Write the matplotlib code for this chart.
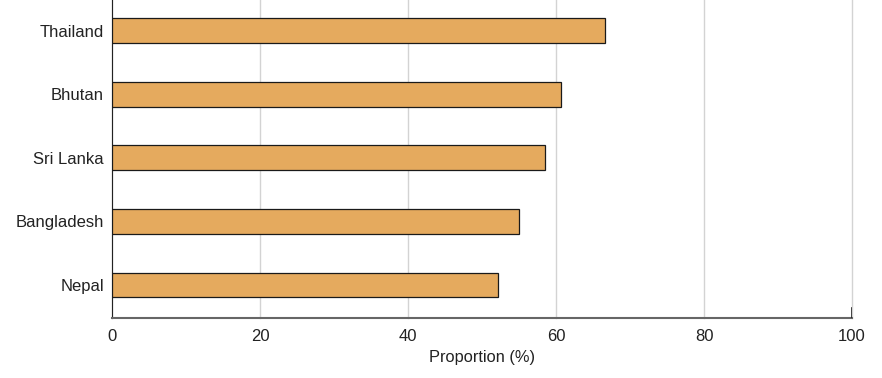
import matplotlib
matplotlib.use("Agg")
import matplotlib.pyplot as plt
import numpy as np

# proportion by country (bottom to top)
countries = ["Nepal", "Bangladesh", "Sri Lanka", "Bhutan", "Thailand"]
values = [52.2, 55.0, 58.5, 60.7, 66.6]
xticks = [0, 20, 40, 60, 80, 100]

plt.rcParams['font.family'] = ['Liberation Sans', 'DejaVu Sans']

fig = plt.figure(figsize=(8.82, 3.78), dpi=100)
ax = fig.add_axes([112/882, 60/378, 740/882, 318/378])

y = np.arange(len(countries))
ax.barh(y, values, height=0.39, color='#E5AA5E', edgecolor='#1a1a1a', linewidth=0.9, zorder=3)

ax.set_xlim(0, 100)
ax.set_ylim(-0.52, len(countries) - 0.52)
ax.set_xticks(xticks)
ax.set_yticks(y)
ax.set_yticklabels(countries, va='center_baseline')
ax.tick_params(axis='both', length=0, labelsize=12, colors='#222222')
ax.tick_params(axis='x', pad=8)
ax.tick_params(axis='y', pad=5.7)
ax.xaxis.grid(True, color='#d3d3d3', linewidth=1.0, zorder=0)
for gl in ax.get_xgridlines():
    gl.set_clip_on(False)
ax.set_axisbelow(True)

for s in ['top', 'right']:
    ax.spines[s].set_visible(False)
ax.spines['left'].set_color('#222222')
ax.spines['bottom'].set_color('#666666')
ax.spines['bottom'].set_linewidth(1.5)
# small end mark at the right of the x axis
ax.axvline(100, ymin=0, ymax=0.03, color='#222222', linewidth=1.2, zorder=4)

ax.set_xlabel('Proportion (%)', fontsize=11.8, color='#222222', labelpad=4)

fig.savefig("out.png", dpi=100)
